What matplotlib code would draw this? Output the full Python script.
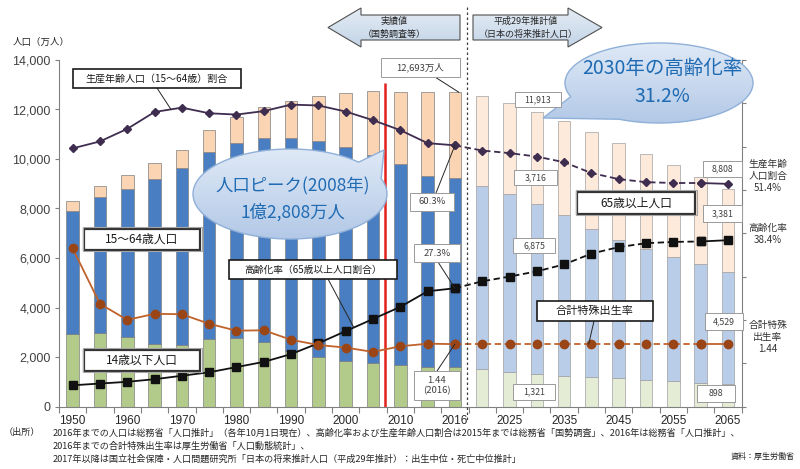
import numpy as np
import matplotlib
matplotlib.use('Agg')
import matplotlib.pyplot as plt
from matplotlib.patches import Polygon, Rectangle
from matplotlib.colors import LinearSegmentedColormap

plt.rcParams['font.family'] = ['Noto Sans CJK JP', 'DejaVu Sans']

# ---- data (万人, %, 合計特殊出生率) ----
years = ['1950', '1955', '1960', '1965', '1970', '1975', '1980', '1985', '1990',
         '1995', '2000', '2005', '2010', '2015', '2016', '2020', '2025', '2030',
         '2035', '2040', '2045', '2050', '2055', '2060', '2065']
pop_0_14 = [2943, 2980, 2807, 2517, 2482, 2722, 2751, 2603, 2249, 2001, 1847, 1752,
            1680, 1595, 1578, 1507, 1407, 1321, 1246, 1194, 1138, 1077, 1012, 951, 898]
pop_15_64 = [4966, 5473, 6000, 6693, 7157, 7581, 7883, 8251, 8590, 8716, 8622, 8409,
             8103, 7728, 7656, 7406, 7170, 6875, 6494, 5978, 5584, 5275, 5028, 4793, 4529]
pop_65 = [411, 475, 535, 618, 733, 887, 1065, 1247, 1489, 1826, 2204, 2576,
          2925, 3387, 3459, 3619, 3677, 3716, 3782, 3921, 3919, 3841, 3704, 3540, 3381]
working_ratio = [59.6, 61.2, 64.1, 68.0, 69.0, 67.7, 67.4, 68.2, 69.7, 69.5, 68.1, 66.1,
                 63.8, 60.8, 60.3, 59.1, 58.5, 57.7, 56.4, 53.9, 52.5, 51.8, 51.6, 51.6, 51.4]
aging_rate = [4.9, 5.3, 5.7, 6.3, 7.1, 7.9, 9.1, 10.3, 12.1, 14.6, 17.4, 20.2,
              23.0, 26.6, 27.3, 28.9, 30.0, 31.2, 32.8, 35.3, 36.8, 37.7, 38.0, 38.1, 38.4]
tfr = [3.65, 2.37, 2.00, 2.14, 2.13, 1.91, 1.75, 1.76, 1.54, 1.42, 1.36, 1.26,
       1.39, 1.45, 1.44, 1.44, 1.44, 1.44, 1.44, 1.44, 1.44, 1.44, 1.44, 1.44, 1.44]
n_actual = 15  # 1950-2016 are actual values

PAST = ['#b3cb8a', '#4a7ec2', '#fbd4b4']
FUTURE = ['#e4ecd5', '#b9cde8', '#fdeadb']

W, H = 800, 469
fig = plt.figure(figsize=(W / 100, H / 100), dpi=100)
ax = fig.add_axes([59 / W, 1 - 406.5 / H, 682.6 / W, 346.5 / H])
x = np.arange(len(years))
b0 = np.array(pop_0_14)
b1 = np.array(pop_15_64)
b2 = np.array(pop_65)
past = x < n_actual
for sel, cols, ec in [(past, PAST, '#808080'), (~past, FUTURE, '#a0a0a0')]:
    ax.bar(x[sel], b0[sel], 0.46, color=cols[0], edgecolor=ec, lw=0.5)
    ax.bar(x[sel], b1[sel], 0.46, bottom=b0[sel], color=cols[1], edgecolor=ec, lw=0.5)
    ax.bar(x[sel], b2[sel], 0.46, bottom=(b0 + b1)[sel], color=cols[2], edgecolor=ec, lw=0.5)

ax.vlines(11.44, 0, 13070, colors='#e3211c', lw=1.8, zorder=3)
ax.set_xlim(-0.5, 24.5)
ax.set_ylim(0, 14000)
ax.set_yticks(range(0, 14001, 2000))
ax.set_yticklabels([f'{v:,}' for v in range(0, 14001, 2000)])
ax.set_xticks(np.arange(-0.5, 25, 1))
ax.set_xticklabels([])
ax.set_xticks(x[::2], labels=years[::2], minor=True)
ax.tick_params(axis='x', which='major', length=4, color='#808080')
ax.tick_params(axis='x', which='minor', length=0, pad=6, labelsize=8.5, labelcolor='#262626')
ax.tick_params(axis='y', length=3, color='#808080', labelsize=9, labelcolor='#404040', pad=3)
for lab in ax.get_yticklabels() + ax.get_xticklabels(minor=True):
    lab.set_fontfamily(['Liberation Sans', 'DejaVu Sans'])
for s in ['top', 'right']:
    ax.spines[s].set_visible(False)
for s in ['left', 'bottom']:
    ax.spines[s].set_color('#808080')

# percent axis (0-80) and TFR axis (0-8)
ax2 = ax.twinx()
ax2.set_ylim(0, 80)
ax2.set_yticks(range(0, 81, 10))
ax2.set_yticklabels([])
ax2.tick_params(axis='y', length=3, color='#808080')
for s in ['top', 'left', 'bottom']:
    ax2.spines[s].set_visible(False)
ax2.spines['right'].set_color('#808080')
ax3 = ax.twinx()
ax3.set_ylim(0, 8)
ax3.set_axis_off()


def seg_plot(axis, vals, color, marker, ms, mc):
    v = np.array(vals)
    kw = dict(color=color, marker=marker, ms=ms, mfc=mc, mec=mc, lw=1.3)
    axis.plot(x[:15], v[:15], '-', **kw)
    axis.plot(x[14:24], v[14:24], ls=(0, (3.5, 2)), **kw)
    axis.plot(x[23:], v[23:], '-', **kw)


seg_plot(ax2, working_ratio, '#3f2d4f', 'D', 4.5, '#3f2d4f')
seg_plot(ax2, aging_rate, '#111111', 's', 5.5, '#111111')
seg_plot(ax3, tfr, '#c0622a', 'o', 6, '#9a4515')

# ---- overlay in pixel coordinates ----
ov = fig.add_axes([0, 0, 1, 1], zorder=10)
ov.set_axis_off()
ov.set_autoscale_on(False)
ov.set_xlim(0, W)
ov.set_ylim(H, 0)


def grad_poly(pts, c_top, c_bot, ec, lw=0.9):
    pts = np.asarray(pts, float)
    poly = Polygon(pts, closed=True, fc='none', ec=ec, lw=lw, zorder=3)
    ov.add_patch(poly)
    cmap = LinearSegmentedColormap.from_list('g', [c_top, c_bot])
    im = ov.imshow(np.linspace(0, 1, 64).reshape(-1, 1), cmap=cmap, aspect='auto',
                   extent=[pts[:, 0].min(), pts[:, 0].max(), pts[:, 1].max(), pts[:, 1].min()],
                   zorder=2, interpolation='bilinear')
    im.set_clip_path(poly)


def bubble(cx, cy, a, b, t0, t1, tip):
    t = np.radians(np.linspace(t1, t0 + 360, 240))
    pts = np.column_stack([cx + a * np.cos(t), cy - b * np.sin(t)])
    pts = np.vstack([pts, tip])
    grad_poly(pts, '#dfe9f6', '#b3c9e7', '#8fb0d9', lw=1.0)


def box(x0, y0, x1, y1, text, fs, ec='#9a9a9a', lw=0.7, color='#404040', double=False):
    ov.add_patch(Rectangle((x0, y0), x1 - x0, y1 - y0, fc='white', ec=ec, lw=lw, zorder=4))
    if double:
        ov.add_patch(Rectangle((x0 - 1.5, y0 - 1.5), x1 - x0 + 3, y1 - y0 + 3, fc='none',
                               ec='#a6a6a6', lw=0.8, zorder=4))
    ov.text((x0 + x1) / 2, (y0 + y1) / 2, text, ha='center', va='center', fontsize=fs,
            color=color, zorder=6, linespacing=1.2)


def leader(axis, xy, xytext):
    axis.annotate('', xy=xy, xytext=xytext, textcoords=ov.transData,
                  arrowprops=dict(arrowstyle='-', color='#262626', lw=0.7, shrinkA=0, shrinkB=0))


# top arrows
grad_poly([(328, 27.5), (361, 8), (361, 15), (460, 15), (460, 40), (361, 40), (361, 47)],
          '#e4ecf5', '#c3d4e6', '#505050', lw=0.8)
grad_poly([(473, 15), (568, 15), (568, 8), (602, 27.5), (568, 47), (568, 40), (473, 40)],
          '#e4ecf5', '#c3d4e6', '#505050', lw=0.8)
ov.text(394, 21, '実績値', ha='center', va='center', fontsize=6.5, color='#262626', zorder=6)
ov.text(394, 34, '（国勢調査等）', ha='center', va='center', fontsize=6.5, color='#262626', zorder=6)
ov.text(526, 21, '平成29年推計値', ha='center', va='center', fontsize=6.5, color='#262626', zorder=6)
ov.text(528, 34, '（日本の将来推計人口）', ha='center', va='center', fontsize=6.5, color='#262626', zorder=6)
ov.plot([467, 467], [7, 420], color='#404040', lw=0.9, ls=(0, (2, 2)), zorder=3)

# callout bubbles
bubble(290, 194, 97, 45, 20, 45, (384, 150))
ov.text(293, 186, '人口ピーク(2008年)', ha='center', va='center', fontsize=12.5, color='#1f6bb3', zorder=6)
ov.text(293, 212, '1億2,808万人', ha='center', va='center', fontsize=12.5, color='#1f6bb3', zorder=6)
bubble(659, 83, 94, 40, 200, 245, (543, 118))
ov.text(662, 68, '2030年の高齢化率', ha='center', va='center', fontsize=14, color='#1f6bb3', zorder=6)
ov.text(662, 96, '31.2%', ha='center', va='center', fontsize=14, color='#1f6bb3', zorder=6)

# series labels
box(73, 69, 241, 88, '生産年齢人口（15～64歳）割合', 7.2, ec='#1a1a1a', lw=1.2, color='#1a1a1a')
leader(ax2, (3.6, 68.6), (157, 88))
box(84, 229, 200, 250, '15～64歳人口', 8.5, ec='#333333', lw=1.6, color='#1a1a1a', double=True)
box(84, 350, 200, 371, '14歳以下人口', 8.5, ec='#333333', lw=1.6, color='#1a1a1a', double=True)
box(229, 260, 397, 279, '高齢化率（65歳以上人口割合）', 7, ec='#1a1a1a', lw=1.2, color='#1a1a1a')
leader(ax2, (10.3, 18.2), (328, 279))
box(577, 192, 695, 214, '65歳以上人口', 8.5, ec='#333333', lw=1.6, color='#1a1a1a', double=True)
box(537, 301, 653, 321, '合計特殊出生率', 8, ec='#1a1a1a', lw=1.2, color='#1a1a1a')
leader(ax3, (18.9, 1.44), (594, 321))

# value boxes
box(381, 58, 460, 77, '12,693万人', 6.8)
leader(ax, (14.15, 12693), (435, 77))
box(410, 193, 454, 211, '60.3%', 6.8)
leader(ax2, (14, 60.3), (436, 193))
box(414, 244, 460, 262, '27.3%', 6.8)
leader(ax2, (14, 27.3), (438, 262))
box(414, 371, 460, 400, '1.44\n(2016)', 6.8)
leader(ax3, (14, 1.44), (437, 371))
box(515, 92, 561, 107, '11,913', 6.3)
box(514, 170, 557, 185, '3,716', 6.3)
box(513, 238, 555, 253, '6,875', 6.3)
box(513, 384, 555, 400, '1,321', 6.3)
box(703, 161, 742, 177, '8,808', 6.3)
box(703, 205, 742, 222, '3,381', 6.3)
box(705, 313, 743, 330, '4,529', 6.3)
box(697, 385, 735, 402, '898', 6.3)

# right-hand notes
for cy, txt in [(176, '生産年齢\n人口割合\n51.4%'), (234, '高齢化率\n38.4%'), (337, '合計特殊\n出生率\n1.44')]:
    ov.text(768, cy, txt, ha='center', va='center', fontsize=7, color='#333333',
            linespacing=1.25, zorder=6)

ov.text(13, 42, '人口（万人）', ha='left', va='center', fontsize=6.8, color='#262626', zorder=6)

# source
src = ['2016年までの人口は総務省「人口推計」（各年10月1日現在）、高齢化率および生産年齢人口割合は2015年までは総務省「国勢調査」、2016年は総務省「人口推計」、',
       '2016年までの合計特殊出生率は厚生労働省「人口動態統計」、',
       '2017年以降は国立社会保障・人口問題研究所「日本の将来推計人口（平成29年推計）：出生中位・死亡中位推計」']
ov.text(4, 433, '（出所）', ha='left', va='center', fontsize=6.6, color='#262626', zorder=6)
for i, line in enumerate(src):
    ov.text(53, 433 + 13 * i, line, ha='left', va='center', fontsize=6.6, color='#262626', zorder=6)
ov.text(795, 456, '資料：厚生労働省', ha='right', va='center', fontsize=5.8, color='#262626', zorder=6)

ov.set_xlim(0, W)
ov.set_ylim(H, 0)
fig.savefig('out.png', dpi=100)
